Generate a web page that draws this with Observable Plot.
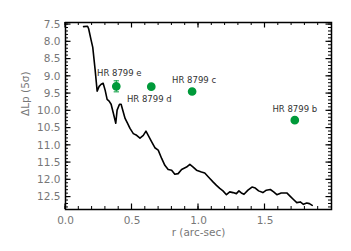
<!DOCTYPE html>
<html>
<head>
<meta charset="utf-8">
<script src="https://cdn.jsdelivr.net/npm/d3@7"></script>
<script src="https://cdn.jsdelivr.net/npm/@observablehq/plot@0.6"></script>
<style>
  html, body { margin: 0; padding: 0; background: #fff; }
</style>
</head>
<body>
<div id="chart"></div>
<script>
// Contrast curve: separation r (arcsec) vs. ΔLp (5σ)
const curveR = [0.136, 0.166, 0.174, 0.193, 0.205, 0.223, 0.238, 0.253, 0.268, 0.283, 0.298, 0.313, 0.328, 0.343, 0.358, 0.378, 0.388, 0.406, 0.418, 0.448, 0.465, 0.485, 0.510, 0.535, 0.560, 0.585, 0.605, 0.622, 0.648, 0.672, 0.697, 0.723, 0.747, 0.772, 0.798, 0.822, 0.847, 0.873, 0.910, 0.935, 0.960, 0.985, 1.022, 1.047, 1.085, 1.109, 1.135, 1.160, 1.184, 1.210, 1.235, 1.259, 1.285, 1.304, 1.322, 1.342, 1.372, 1.402, 1.427, 1.452, 1.484, 1.510, 1.540, 1.565, 1.589, 1.622, 1.664, 1.690, 1.714, 1.739, 1.765, 1.789, 1.814, 1.834, 1.855];
const curveDL = [7.56, 7.55, 7.62, 7.96, 8.16, 8.82, 9.43, 9.29, 9.23, 9.20, 9.40, 9.67, 9.72, 9.81, 10.04, 10.36, 9.98, 9.81, 9.81, 10.22, 10.35, 10.51, 10.66, 10.71, 10.79, 10.71, 10.59, 10.71, 10.90, 11.07, 11.14, 11.38, 11.58, 11.70, 11.72, 11.84, 11.82, 11.70, 11.63, 11.55, 11.63, 11.72, 11.77, 11.80, 11.96, 12.06, 12.16, 12.25, 12.32, 12.43, 12.35, 12.37, 12.40, 12.32, 12.38, 12.42, 12.30, 12.21, 12.24, 12.32, 12.37, 12.30, 12.28, 12.35, 12.43, 12.38, 12.38, 12.48, 12.57, 12.66, 12.64, 12.71, 12.67, 12.69, 12.74];

// Planets
const planetNames = ["HR 8799 e", "HR 8799 d", "HR 8799 c", "HR 8799 b"];
const planetR = [0.382, 0.645, 0.952, 1.724];
const planetDL = [9.29, 9.30, 9.44, 10.27];
const planetErr = [0.16, 0, 0, 0];

// Tick values
const xMajorTicks = [0.0, 0.5, 1.0, 1.5];
const yMajorTicks = [7.5, 8.0, 8.5, 9.0, 9.5, 10.0, 10.5, 11.0, 11.5, 12.0, 12.5];
const xTickLabels = ["0.0", "0.5", "1.0", "1.5"];
const yTickLabels = ["7.5", "8.0", "8.5", "9.0", "9.5", "10.0", "10.5", "11.0", "11.5", "12.0", "12.5"];
const xMinorStep = 0.1;
const yMinorStep = 0.1;

const curve = curveR.map((r, i) => ({r, dl: curveDL[i]}));
const planets = planetNames.map((name, i) => ({name, r: planetR[i], dl: planetDL[i], err: planetErr[i]}));
const errPlanets = planets.filter(d => d.err > 0);

const xMinor = d3.range(0, 1.9501, xMinorStep).map(v => +v.toFixed(2));
const yMinor = d3.range(7.5, 12.8001, yMinorStep).map(v => +v.toFixed(2));

const green = "#009a3a";
const tickFont = "'DejaVu Sans', sans-serif";

const W = 351, H = 251, ML = 65, MR = 20, MT = 22, MB = 42;
const minorLen = 3, majorLen = 5.5;

const labelDx = {"HR 8799 e": 3, "HR 8799 d": -2, "HR 8799 c": 2, "HR 8799 b": 0};
const labelDy = {"HR 8799 e": -13, "HR 8799 d": 13, "HR 8799 c": -11, "HR 8799 b": -11};

// Inward tick marks drawn via a render function that uses the plot's own scales
function inwardTicks(xVals, yVals, len, sw) {
  return (index, scales, values, dims) => {
    const {x, y} = scales;
    const {width, height, marginLeft, marginRight, marginTop, marginBottom} = dims;
    const x0 = marginLeft, x1 = width - marginRight, y0 = marginTop, y1 = height - marginBottom;
    const g = d3.create("svg:g").attr("stroke", "#000").attr("stroke-width", sw);
    for (const v of xVals) {
      const px = x(v);
      g.append("line").attr("x1", px).attr("x2", px).attr("y1", y1).attr("y2", y1 - len);
      g.append("line").attr("x1", px).attr("x2", px).attr("y1", y0).attr("y2", y0 + len);
    }
    for (const v of yVals) {
      const py = y(v);
      g.append("line").attr("y1", py).attr("y2", py).attr("x1", x0).attr("x2", x0 + len);
      g.append("line").attr("y1", py).attr("y2", py).attr("x1", x1).attr("x2", x1 - len);
    }
    return g.node();
  };
}

const chart = Plot.plot({
  width: W,
  height: H,
  marginLeft: ML,
  marginRight: MR,
  marginTop: MT,
  marginBottom: MB,
  style: {fontFamily: tickFont, fontSize: "10px", background: "#fff"},
  x: {domain: [0, 2.0], axis: null},
  y: {domain: [7.44, 12.86], reverse: true, axis: null},
  marks: [
    inwardTicks(xMinor, yMinor, minorLen, 1),
    inwardTicks(xMajorTicks, yMajorTicks, majorLen, 1.2),
    // tick labels
    Plot.axisX(xMajorTicks, {anchor: "bottom", tickSize: 0, tickPadding: 7, label: null,
      tickFormat: (d, i) => xTickLabels[i], fill: "#777", fontSize: 10.5}),
    Plot.axisY(yMajorTicks, {anchor: "left", tickSize: 0, tickPadding: 5, label: null,
      tickFormat: (d, i) => yTickLabels[i], fill: "#777", fontSize: 10.5}),
    Plot.frame({stroke: "#000", strokeWidth: 1.5}),
    // axis titles
    Plot.text(["r (arc-sec)"], {frameAnchor: "bottom", dy: 26, fill: "#777", fontSize: 10.5}),
    Plot.text(["ΔLp (5σ)"], {frameAnchor: "left", rotate: -90, dx: -40, fill: "#777", fontSize: 10.5}),
    // contrast curve
    Plot.line(curve, {x: "r", y: "dl", stroke: "#000", strokeWidth: 1.6, strokeLinejoin: "round"}),
    // error bars
    Plot.ruleX(errPlanets, {x: "r", y1: d => d.dl - d.err, y2: d => d.dl + d.err, stroke: green, strokeWidth: 1}),
    Plot.link(errPlanets, {x1: d => d.r - 0.02, x2: d => d.r + 0.02, y1: d => d.dl - d.err, y2: d => d.dl - d.err, stroke: green, strokeWidth: 1}),
    Plot.link(errPlanets, {x1: d => d.r - 0.02, x2: d => d.r + 0.02, y1: d => d.dl + d.err, y2: d => d.dl + d.err, stroke: green, strokeWidth: 1}),
    // planets
    Plot.dot(planets, {x: "r", y: "dl", r: 3.6, fill: green, stroke: green}),
    Plot.text(planets, {x: "r", y: "dl", text: "name", fill: "#333", fontSize: 8.5})
  ]
});

document.getElementById("chart").appendChild(chart);
// Per-label offsets for planet names (style only)
chart.querySelectorAll("g[aria-label='text'] text").forEach(t => {
  const name = t.textContent;
  if (name in labelDx) {
    const tr = t.getAttribute("transform") || "";
    t.setAttribute("transform", tr + ` translate(${labelDx[name]},${labelDy[name]})`);
  }
});
</script>
</body>
</html>
